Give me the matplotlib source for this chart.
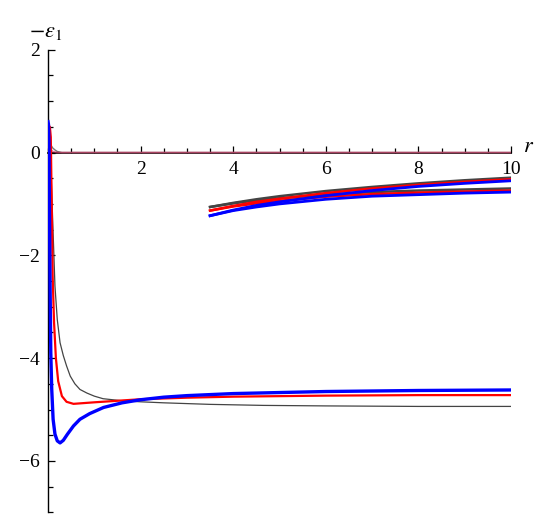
import matplotlib
matplotlib.use("Agg")
import matplotlib.pyplot as plt
from matplotlib.ticker import MultipleLocator, FixedLocator

plt.rcParams['font.family'] = ['Liberation Serif', 'DejaVu Serif']
plt.rcParams['mathtext.fontset'] = 'stix'

# ---- main curves (r, -eps1) ----
blue_r = [0.0, 0.01, 0.02, 0.03, 0.045, 0.06, 0.08, 0.11, 0.15, 0.2, 0.26, 0.33, 0.42, 0.55, 0.69, 0.9, 1.2, 1.6, 2.0, 2.5, 3.0, 4.0, 5.0, 6.0, 8.0, 10.0]
blue_y = [0.6, 0.55, 0.2, -1.0, -2.6, -3.9, -4.6, -5.19, -5.48, -5.61, -5.65, -5.6, -5.48, -5.32, -5.19, -5.08, -4.96, -4.87, -4.81, -4.76, -4.73, -4.69, -4.67, -4.65, -4.63, -4.62]

red_r = [0.0, 0.02, 0.04, 0.06, 0.08, 0.1, 0.13, 0.17, 0.22, 0.3, 0.4, 0.55, 0.7, 1.0, 1.5, 2.0, 3.0, 4.0, 5.0, 6.0, 8.0, 10.0]
red_y = [0.52, 0.52, 0.5, 0.3, -1.0, -2.4, -3.3, -4.0, -4.45, -4.74, -4.85, -4.89, -4.88, -4.86, -4.83, -4.8, -4.77, -4.75, -4.74, -4.73, -4.72, -4.72]

black_r = [0.0, 0.04, 0.07, 0.1, 0.15, 0.2, 0.26, 0.33, 0.4, 0.48, 0.58, 0.69, 0.84, 1.0, 1.19, 1.6, 2.0, 2.5, 3.5, 4.65, 6.0, 8.0, 10.0]
black_y = [0.5, 0.2, -0.5, -1.3, -2.6, -3.25, -3.7, -3.95, -4.15, -4.35, -4.5, -4.61, -4.68, -4.74, -4.79, -4.83, -4.85, -4.87, -4.9, -4.92, -4.93, -4.94, -4.94]

# ---- curves decaying to zero ----
zero_r = [0.0, 0.03, 0.06, 0.1, 0.15, 0.2, 0.3, 1.0, 10.0]
zero_black_y = [0.5, 0.3, 0.15, 0.09, 0.05, 0.02, 0.0, 0.0, 0.0]
zero_red_y = [0.52, 0.45, 0.06, 0.02, 0.01, 0.0, 0.0, 0.0, 0.0]

# ---- upper-right families (start at r = 3.5) ----
fam_r = [3.5, 4.0, 4.5, 5.0, 6.0, 7.0, 8.0, 9.0, 10.0]
a_black = [-1.06, -0.98, -0.91, -0.85, -0.75, -0.67, -0.60, -0.54, -0.49]
a_red = [-1.13, -1.04, -0.96, -0.90, -0.79, -0.70, -0.63, -0.57, -0.52]
a_blue = [-1.23, -1.12, -1.03, -0.96, -0.84, -0.74, -0.66, -0.60, -0.55]
b_black = [-1.06, -0.99, -0.93, -0.89, -0.82, -0.77, -0.74, -0.72, -0.70]
b_red = [-1.13, -1.05, -0.99, -0.94, -0.86, -0.81, -0.78, -0.76, -0.74]
b_blue = [-1.23, -1.13, -1.06, -1.00, -0.91, -0.85, -0.82, -0.79, -0.77]

x_major = [2, 4, 6, 8, 10]
y_major = [-6, -4, -2, 0, 2]

fig = plt.figure(figsize=(5.5, 5.31), dpi=100)
ax = fig.add_axes([0.0873, 0.0352, 0.8418, 0.8712])
ax.set_xlim(0, 10)
ax.set_ylim(-7, 2)

BLUE = '#0000ff'
RED = '#ff0000'
GRAY = '#444444'

# zero-decaying curves
ax.plot(zero_r, zero_black_y, color='#777777', lw=1.0, zorder=3)
ax.plot(zero_r, zero_red_y, color='#cc2255', lw=1.2, alpha=0.6, zorder=4)

# upper-right families
for yb, yr, yu in [(b_black, b_red, b_blue), (a_black, a_red, a_blue)]:
    ax.plot(fam_r, yb, color=GRAY, lw=1.8, zorder=3)
    ax.plot(fam_r, yr, color=RED, lw=1.8, zorder=3)
    ax.plot(fam_r, yu, color=BLUE, lw=2.0, zorder=3)

# main curves
ax.plot(black_r, black_y, color=GRAY, lw=0.9, zorder=3)
ax.plot(red_r, red_y, color=RED, lw=1.6, zorder=4)
ax.plot(blue_r, blue_y, color=BLUE, lw=2.4, zorder=5)

# axes styling (Mathematica-like)
for s in ['top', 'right']:
    ax.spines[s].set_visible(False)
ax.spines['left'].set_position(('data', 0))
ax.spines['bottom'].set_position(('data', 0))
ax.spines['left'].set_linewidth(1.0)
ax.spines['bottom'].set_linewidth(1.2)
ax.spines['bottom'].set_zorder(2)

ax.xaxis.set_major_locator(FixedLocator(x_major))
ax.xaxis.set_minor_locator(MultipleLocator(0.5))
ax.yaxis.set_major_locator(FixedLocator(y_major))
ax.yaxis.set_minor_locator(MultipleLocator(0.5))
ax.set_xticklabels([str(v) for v in x_major])
ax.set_yticklabels([('\u2212' + str(-v)) if v < 0 else str(v) for v in y_major])

ax.tick_params(axis='both', which='both', direction='in', width=0.9)
ax.tick_params(axis='both', which='major', length=5, labelsize=14)
ax.tick_params(axis='both', which='minor', length=3.5)
ax.tick_params(axis='x', which='major', pad=6)
ax.tick_params(axis='y', which='major', pad=6)

# axis labels
fig.text(46 / 550, 1 - 33 / 531, r'$-\varepsilon_1$', fontsize=16, ha='center', va='center')
fig.text(529 / 550, 1 - 148 / 531, r'$r$', fontsize=16, ha='center', va='center')

fig.savefig('out.png', dpi=100)
